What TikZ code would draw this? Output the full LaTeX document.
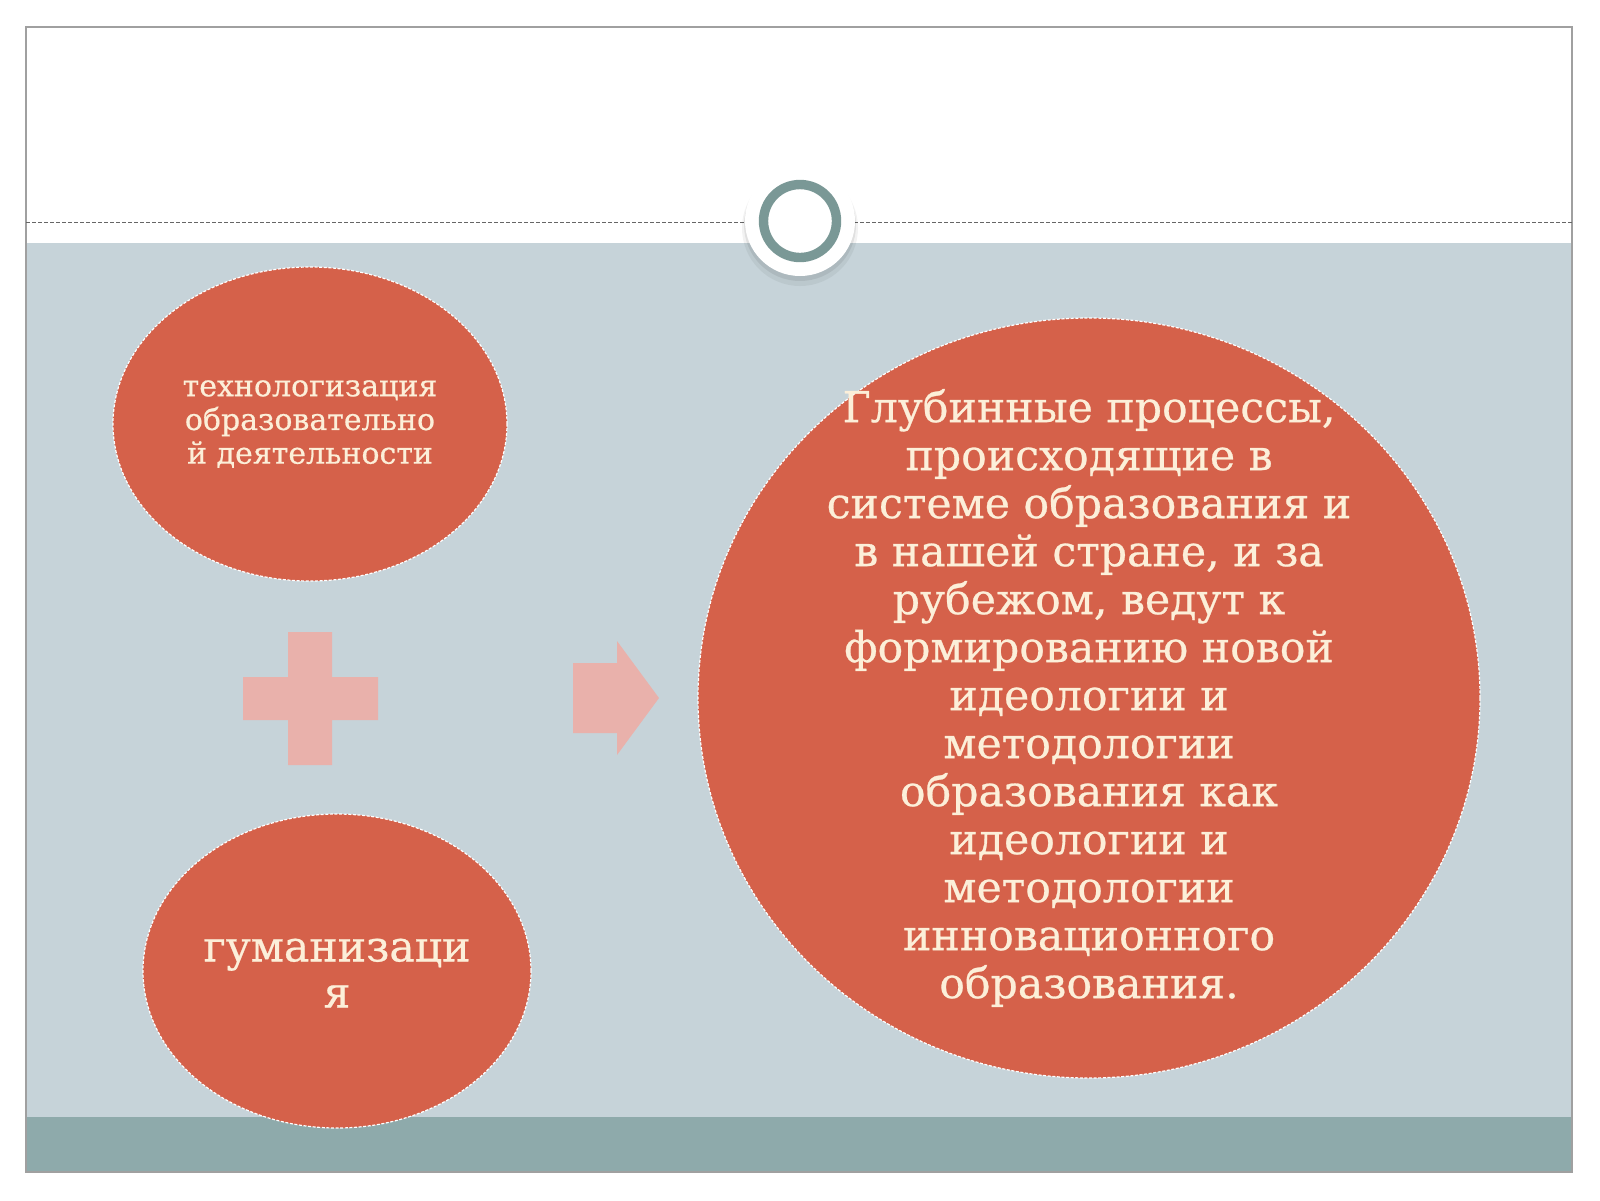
\documentclass[tikz,border=0pt]{standalone}
\usepackage{fontspec}
\setmainfont{DejaVu Serif}
\newfontfamily\heavyserif{DejaVu Serif}[FakeBold=0.6]
\usetikzlibrary{shapes.geometric}
\definecolor{bggray}{HTML}{C6D3D9}
\definecolor{bandteal}{HTML}{8EAAAB}
\definecolor{coral}{HTML}{D5614A}
\definecolor{cream}{HTML}{FCEFD9}
\definecolor{ringcol}{HTML}{7A9896}
\definecolor{pinkish}{HTML}{E9B1AB}
\definecolor{framegray}{HTML}{A0A0A0}
\begin{document}
\begin{tikzpicture}[x=0.5pt,y=-0.5pt,
  blob/.style={ellipse, fill=coral, draw=white, line width=0.6pt,
    dash pattern=on 1.5pt off 0.8pt, inner sep=0pt, outer sep=0pt},
  blobtext/.style={text=cream, align=center, inner sep=0pt},
  smalltext/.style={blobtext, font=\heavyserif\fontsize{15}{16.85}\selectfont},
  bigtext/.style={blobtext, font=\heavyserif\fontsize{21.3}{24}\selectfont},
  midtext/.style={blobtext, font=\heavyserif\fontsize{21.3}{23}\selectfont},
  signshape/.style={fill=pinkish}]
\useasboundingbox (0,0) rectangle (1600,1200);
\fill[white] (0,0) rectangle (1600,1200);
% slide areas
\fill[white] (26,27) rectangle (1572,243);
\fill[bggray] (26,243) rectangle (1572,1117);
\fill[bandteal] (26,1117) rectangle (1572,1172);
\draw[framegray, line width=1pt] (26,27) rectangle (1572,1172);
% dashed header line
\draw[black!60, line width=0.5pt, dash pattern=on 2pt off 1pt] (26,222) -- (1572,222);
% ring with halo and shadow
\fill[black, opacity=0.05] (800,228) circle [radius=29pt];
\fill[black, opacity=0.07] (800,225) circle [radius=28pt];
\fill[white] (800,221) circle [radius=27.5pt];
\node[circle, draw=ringcol, line width=4.7pt, fill=white, minimum size=36.5pt, inner sep=0pt] (ring) at (800,221) {};
% ellipses
\node[blob, minimum width=197pt, minimum height=157pt] (top) at (310,424) {};
\node[smalltext] (toptext) at (top.center) {технологизация\\образовательно\\й деятельности};
\node[blob, minimum width=194pt, minimum height=157pt] (bottom) at (337,971) {};
\node[midtext] (bottomtext) at ([yshift=-1pt]bottom.center) {гуманизаци\\я};
\node[blob, minimum width=391pt, minimum height=380pt] (big) at (1089,698) {};
\node[bigtext] (bigtext) at (big.center) {Глубинные процессы,\\происходящие в\\системе образования и\\в нашей стране, и за\\рубежом, ведут к\\формированию новой\\идеологии и\\методологии\\образования как\\идеологии и\\методологии\\инновационного\\образования.};
% plus sign
\fill[signshape] (288,632) -- (332,632) -- (332,677) -- (378,677) -- (378,720) -- (332,720) -- (332,765) -- (288,765) -- (288,720) -- (243,720) -- (243,677) -- (288,677) -- cycle;
% arrow
\fill[signshape] (573,663) -- (617,663) -- (617,641) -- (659,698) -- (617,755) -- (617,733) -- (573,733) -- cycle;
\end{tikzpicture}
\end{document}
